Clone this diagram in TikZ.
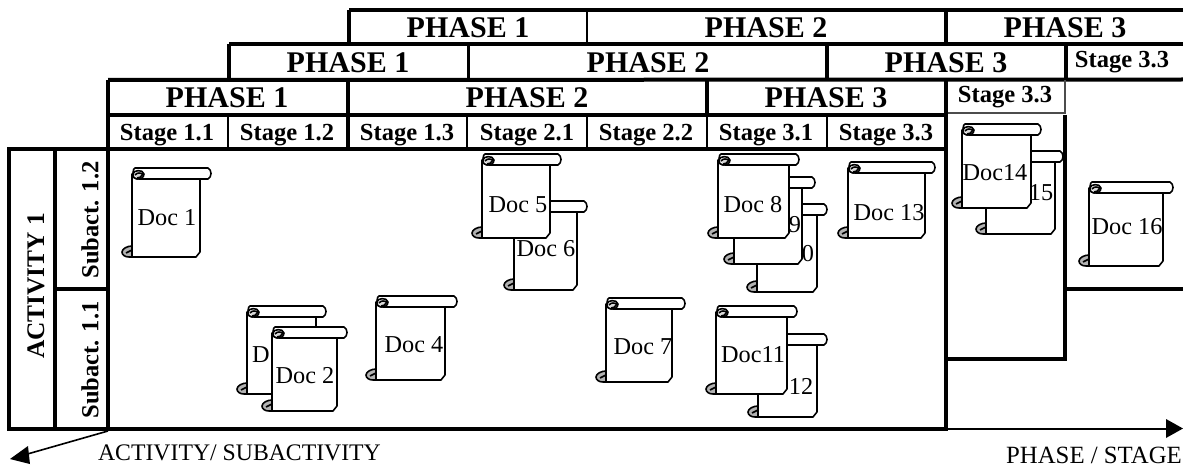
\documentclass[tikz,border=0pt]{standalone}
\usepackage{fontspec}
\setmainfont{Liberation Serif}
\usetikzlibrary{arrows.meta}
\tikzset{
  thick line/.style={line width=3pt},
  mid line/.style={line width=2.1pt},
  thin line/.style={line width=1.2pt},
  phase/.style={font=\fontsize{22.5}{24}\selectfont\bfseries,inner sep=0pt,anchor=center},
  stage/.style={font=\fontsize{18.4}{20}\selectfont\bfseries,inner sep=0pt,anchor=center},
  axis/.style={font=\fontsize{17.8}{20}\selectfont,inner sep=0pt,anchor=center},
  doc/.style={font=\fontsize{18.2}{20}\selectfont,inner sep=0pt,anchor=center},
  scrollline/.style={draw=black,line width=1.2pt,fill=white,line join=round},
  curl/.style={draw=black,line width=1.2pt,fill=black!30,line join=round},
}
% #1 name, #2 left, #3 top, #4 body width, #5 total height, #6 roll overhang
\newcommand{\scrollshape}[6]{%
  \begin{scope}[shift={(#2,#3)}]
    % body
    \path[scrollline] (0,6) -- (0,#5) -- ({#4-4},#5) -- (#4,{#5-5}) -- (#4,6) -- cycle;
    % roll
    \path[scrollline] (3,0) -- ({#4+#6-3},0) .. controls ({#4+#6+1},2) and ({#4+#6+1},9) .. ({#4+#6-3},11)
      -- (7,11) .. controls (2,11) and (0,8) .. (1,5) .. controls (1,2) and (2,0) .. (3,0) -- cycle;
    % top curl
    \path[scrollline] (1,6) .. controls (1,2) and (11,1) .. (12,6) .. controls (12,10) and (8,11) .. (5,11) .. controls (2,11) and (1,9) .. (1,6) -- cycle;
    \path[draw=black,line width=1.2pt,fill=black!15] (3,7) .. controls (5,4) and (9,5) .. (11,6) .. controls (10,9) and (7,10) .. (5,10);
    % bottom curl
    \path[curl] (0,{#5-11}) .. controls (-5,{#5-11}) and (-10,{#5-8}) .. (-10,{#5-5})
      .. controls (-10,{#5-2}) and (-7,#5) .. (-3,#5) -- (0,#5) -- cycle;
    \path[draw=black,line width=1.2pt] (-6,{#5-4}) -- (0,{#5-7});
    \coordinate (#1) at ({#4/2},{#5/2});
  \end{scope}%
}
\begin{document}
\begin{tikzpicture}[x=0.75pt,y=-0.75pt]
\useasboundingbox (0,0) rectangle (1183,467);
\fill[white] (0,0) rectangle (1183,467);

% corners
\coordinate (a1) at (349,10);  \coordinate (a2) at (1183,10);
\coordinate (b1) at (349,44);  \coordinate (b2) at (1183,44);
\coordinate (c1) at (229,44);  \coordinate (c2) at (229,80);
\coordinate (d1) at (108,80);  \coordinate (d2) at (1183,79.5);
\coordinate (e1) at (108,115); \coordinate (e2) at (946,115);
\coordinate (f1) at (9,149);   \coordinate (f2) at (946,149);
\coordinate (g1) at (9,429);   \coordinate (g2) at (946,429);
\coordinate (h2) at (1183,429);

% headers, horizontals
\draw[thick line] (a1) -- (a2);
\draw[thick line] (c1) -- (b2);
\draw[thick line] (d1) -- (d2);
\draw[thick line] (e1) -- (e2);
\draw[thin line,black!70] (e2) ++(0,-2) -- (1066,113);
\draw[thick line] (f1) -- (f2);
\draw[thick line] (g1) -- (g2);
\draw[thin line] (g2) -- (1170,429);
\fill (1183,428.5) -- (1166,419) -- (1166,438) -- cycle;

% verticals
\draw[thick line] (a1) -- (b1);
\draw[mid line] (587,10) -- (587,44);
\draw[thick line] (946,10) -- (946,44);
\draw[thick line] (c1) -- (c2);
\draw[mid line] (468.5,44) -- (468.5,80);
\draw[thick line] (827,44) -- (827,80);
\draw[thick line] (1065.5,44) -- (1065.5,80);
\draw[thick line] (108,80) -- (108,431);
\draw[thick line] (348,80) -- (348,149);
\draw[thick line] (707,80) -- (707,115);
\draw[mid line] (707,115) -- (707,149);
\draw[thick line] (946,80) -- (946,431);
\draw[thin line,black!70] (1065,80) -- (1065,113);
\draw[thick line] (1065,115) -- (1065,360.5);
\draw[thin line] (228,115) -- (228,149);
\draw[mid line] (467,115) -- (467,149);
\draw[mid line] (587,115) -- (587,149);
\draw[mid line] (827,115) -- (827,149);
\draw[thick line] (946,359) -- (1066,359);
\draw[thick line] (1065,289) -- (1183,289);
\draw[thick line] (9,147.5) -- (9,431);
\draw[thick line] (55,147.5) -- (55,431);
\draw[thick line] (55,289) -- (108,289);

% left axis
\coordinate (la) at (10,459);
\draw[thin line] (108,431) -- (24,455);
\fill (la) -- (28,446) -- (30,464) -- cycle;

% phase labels
\node[phase] (p11) at (468,27.5) {PHASE 1};
\node[phase] (p12) at (766,27.5) {PHASE 2};
\node[phase] (p13) at (1065,27.5) {PHASE 3};
\node[phase] (p21) at (348,62.5) {PHASE 1};
\node[phase] (p22) at (648,62.5) {PHASE 2};
\node[phase] (p23) at (946,62.5) {PHASE 3};
\node[stage] (s33a) at (1122,62) {Stage 3.3};
\node[phase] (p31) at (227,97.5) {PHASE 1};
\node[phase] (p32) at (527,97.5) {PHASE 2};
\node[phase] (p33) at (826,97.5) {PHASE 3};
\node[stage] (s33b) at (1005,97) {Stage 3.3};
\node[stage] (s1) at (167,135) {Stage 1.1};
\node[stage] (s2) at (287,135) {Stage 1.2};
\node[stage] (s3) at (407,135) {Stage 1.3};
\node[stage] (s4) at (527,135) {Stage 2.1};
\node[stage] (s5) at (646,135) {Stage 2.2};
\node[stage] (s6) at (766,135) {Stage 3.1};
\node[stage] (s7) at (886,135) {Stage 3.3};
\node[stage,rotate=90,font=\fontsize{19}{20}\selectfont\bfseries] (act) at (36,286) {ACTIVITY 1};
\node[stage,rotate=90] (sub2) at (90,220) {Subact. 1.2};
\node[stage,rotate=90] (sub1) at (90,360) {Subact. 1.1};
\node[axis] (axl) at (239.5,453) {ACTIVITY/ SUBACTIVITY};
\node[axis,font=\fontsize{18.6}{20}\selectfont] (axr) at (1094,455) {PHASE / STAGE};

% documents (back to front)
\scrollshape{d1}{132}{168}{68}{89}{11}
\node[doc] (doc1) at (167,218) {Doc 1};

\scrollshape{d3}{247}{306}{69}{88}{10}
\node[doc] (doc3) at (261,355) {D};
\scrollshape{d2}{272}{327}{65}{84}{10}
\node[doc] (doc2) at (305,376) {Doc 2};

\scrollshape{d4}{376}{296}{69}{84}{12}
\node[doc] (doc4) at (414,345) {Doc 4};

\scrollshape{d6}{514}{201}{63}{89}{10}
\node[doc] (doc6) at (546,249) {Doc 6};
\scrollshape{d5}{482}{154}{68}{84}{11}
\node[doc] (doc5) at (518,205) {Doc 5};

\scrollshape{d7}{606}{298}{66}{84}{13}
\node[doc] (doc7) at (643,347) {Doc 7};

\scrollshape{d10}{757}{204}{60}{88}{10}
\node[doc] (doc10) at (808,254) {0};
\scrollshape{d9}{734}{177}{68}{87}{13}
\node[doc] (doc9) at (795,225) {9};
\scrollshape{d8}{718}{154}{71}{84}{10}
\node[doc] (doc8) at (753,205) {Doc 8};

\scrollshape{d12}{758}{334}{59}{83}{10}
\node[doc] (doc12) at (801,386) {12};
\scrollshape{d11}{716}{306}{71}{88}{10}
\node[doc] (doc11) at (753,355) {Doc11};

\scrollshape{d13}{848}{162}{77}{76}{10}
\node[doc] (doc13) at (889,213) {Doc 13};

\scrollshape{d15}{986}{151}{69}{83}{8}
\node[doc] (doc15) at (1041,193) {15};
\scrollshape{d14}{962}{124}{69}{84}{10}
\node[doc] (doc14) at (995,173) {Doc14};

\scrollshape{d16}{1089}{182}{74}{84}{10}
\node[doc] (doc16) at (1127,227) {Doc 16};
\end{tikzpicture}
\end{document}
